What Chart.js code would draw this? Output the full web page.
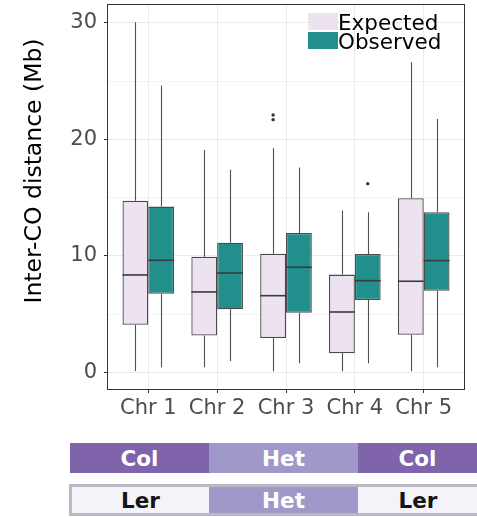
<!DOCTYPE html>
<html>
<head>
<meta charset="utf-8">
<title>Inter-CO distance per chromosome</title>
<script src="https://cdn.jsdelivr.net/npm/chart.js@4/dist/chart.umd.min.js"></script>
<style>
  html, body { margin: 0; padding: 0; background: #ffffff; overflow: hidden; }
  #page { position: relative; width: 477px; height: 517px; }
  #plot { position: absolute; left: 0; top: 0; width: 477px; height: 420px; }
  .strip { position: absolute; display: flex; box-sizing: border-box;
           font-family: "DejaVu Sans", sans-serif; font-weight: bold; font-size: 21.5px; }
  .strip div { display: flex; align-items: center; justify-content: center; }
  #parentA { left: 70px; top: 443px; width: 407px; height: 30px; }
  #parentB { left: 69px; top: 484px; width: 412px; height: 32px; border: 3px solid #bbb7c7; }
</style>
</head>
<body>
<div id="page">
  <div id="plot"><canvas id="chart" width="477" height="420"></canvas></div>
  <div class="strip" id="parentA"></div>
  <div class="strip" id="parentB"></div>
</div>
<script>
// Chromosomes on the x axis
const categories = ['Chr 1', 'Chr 2', 'Chr 3', 'Chr 4', 'Chr 5'];

// Expected inter-crossover distances (Mb): box-plot statistics per chromosome
const expectedMin      = [0.11, 0.43, 0.09, 0.09, 0.09];
const expectedQ1       = [4.09, 3.15, 2.95, 1.63, 3.23];
const expectedMedian   = [8.36, 6.90, 6.58, 5.18, 7.82];
const expectedQ3       = [14.74, 9.93, 10.19, 8.39, 14.95];
const expectedMax      = [30.07, 19.10, 19.24, 13.90, 26.63];
const expectedOutliers = [[], [], [22.1, 21.7], [], []];

// Observed inter-crossover distances (Mb)
const observedMin      = [0.43, 0.97, 0.77, 0.77, 0.43];
const observedQ1       = [6.75, 5.41, 5.12, 6.21, 7.00];
const observedMedian   = [9.62, 8.53, 9.02, 7.87, 9.59];
const observedQ3       = [14.23, 11.13, 11.97, 10.16, 13.75];
const observedMax      = [24.62, 17.40, 17.58, 13.75, 21.76];
const observedOutliers = [[], [], [], [16.2], []];

// Y axis ticks: labelled every 10, light grid every 5
const yTicks = [0, 5, 10, 15, 20, 25, 30];
const yLabelStep = 10;

// Parental genotype strips under the chart
const parentTop = ['Col', 'Het', 'Col'];
const parentBottom = ['Ler', 'Het', 'Ler'];

const seriesNames = ['Expected', 'Observed'];
const seriesFill = ['#ece2f0', '#21908d'];

// ---- genotype strips ----
const stripWidthsA = [139, 149, 119];
const stripWidthsB = [137, 149, 120];
const stripStyle = {
  Col: { bg: '#7f63ab', fg: '#ffffff' },
  Het: { bg: '#9f98c8', fg: '#ffffff' },
  Ler: { bg: '#f4f3f9', fg: '#151515' }
};
function buildStrip(id, labels, widths) {
  const host = document.getElementById(id);
  labels.forEach((lab, i) => {
    const d = document.createElement('div');
    d.textContent = lab;
    d.style.width = widths[i] + 'px';
    d.style.background = stripStyle[lab].bg;
    d.style.color = stripStyle[lab].fg;
    host.appendChild(d);
  });
}
buildStrip('parentA', parentTop, stripWidthsA);
buildStrip('parentB', parentBottom, stripWidthsB);

// ---- box-plot datasets: the boxes are floating bars [Q1, Q3] ----
function boxData(q1, q3) {
  return categories.map((c, i) => ({ x: i + 1, y: [q1[i], q3[i]] }));
}

const datasets = [
  {
    label: seriesNames[0],
    data: boxData(expectedQ1, expectedQ3),
    backgroundColor: seriesFill[0],
    lo: expectedMin, mid: expectedMedian, hi: expectedMax, out: expectedOutliers
  },
  {
    label: seriesNames[1],
    data: boxData(observedQ1, observedQ3),
    backgroundColor: seriesFill[1],
    lo: observedMin, mid: observedMedian, hi: observedMax, out: observedOutliers
  }
].map(ds => Object.assign(ds, {
  borderColor: '#4a4a4a',
  borderWidth: 1.3,
  borderSkipped: false,
  categoryPercentage: 0.75,
  barPercentage: 1.0
}));

const FONT = '"DejaVu Sans", sans-serif';

// Whiskers (behind boxes), medians and outliers (on top)
const boxParts = {
  id: 'boxParts',
  beforeDatasetsDraw(chart) {
    const { ctx } = chart;
    const y = chart.scales.y;
    ctx.save();
    ctx.strokeStyle = '#505050';
    ctx.lineWidth = 1.1;
    chart.data.datasets.forEach((ds, d) => {
      chart.getDatasetMeta(d).data.forEach((el, i) => {
        const x = Math.round(el.x) + 0.5;
        ctx.beginPath();
        ctx.moveTo(x, y.getPixelForValue(ds.data[i].y[1]));
        ctx.lineTo(x, y.getPixelForValue(ds.hi[i]));
        ctx.moveTo(x, y.getPixelForValue(ds.data[i].y[0]));
        ctx.lineTo(x, y.getPixelForValue(ds.lo[i]));
        ctx.stroke();
      });
    });
    ctx.restore();
  },
  afterDatasetsDraw(chart) {
    const { ctx } = chart;
    const y = chart.scales.y;
    ctx.save();
    chart.data.datasets.forEach((ds, d) => {
      chart.getDatasetMeta(d).data.forEach((el, i) => {
        const half = el.width / 2;
        const ym = y.getPixelForValue(ds.mid[i]);
        ctx.strokeStyle = '#3a3a3a';
        ctx.lineWidth = 1.6;
        ctx.beginPath();
        ctx.moveTo(el.x - half, ym);
        ctx.lineTo(el.x + half, ym);
        ctx.stroke();
        ctx.fillStyle = '#333333';
        ds.out[i].forEach(v => {
          ctx.beginPath();
          ctx.arc(el.x, y.getPixelForValue(v), 1.7, 0, Math.PI * 2);
          ctx.fill();
        });
      });
    });
    ctx.restore();
  }
};

// Panel frame around the plotting area
const panelFrame = {
  id: 'panelFrame',
  afterDatasetsDraw(chart) {
    const { ctx, chartArea: a } = chart;
    ctx.save();
    ctx.strokeStyle = '#333333';
    ctx.lineWidth = 1;
    ctx.strokeRect(a.left + 0.5, a.top + 0.5, a.right - a.left - 1, a.bottom - a.top - 1);
    ctx.restore();
  }
};

// Legend inside the panel, top right
const insideLegend = {
  id: 'insideLegend',
  afterDraw(chart) {
    const { ctx, chartArea: a } = chart;
    const x0 = a.right - 157;
    const rows = [a.top + 9, a.top + 28];
    ctx.save();
    ctx.font = '21.5px ' + FONT;
    ctx.textBaseline = 'alphabetic';
    chart.data.datasets.forEach((ds, d) => {
      ctx.fillStyle = ds.backgroundColor;
      ctx.fillRect(x0, rows[d], 30, 17);
      ctx.fillStyle = '#000000';
      ctx.fillText(ds.label, x0 + 30, rows[d] + 16.5);
    });
    ctx.restore();
  }
};

// Y axis title
const yTitle = {
  id: 'yTitle',
  afterDraw(chart) {
    const { ctx, chartArea: a } = chart;
    ctx.save();
    ctx.translate(35, a.top + 167);
    ctx.rotate(-Math.PI / 2);
    ctx.font = '23.5px ' + FONT;
    ctx.fillStyle = '#000000';
    ctx.textAlign = 'center';
    ctx.textBaseline = 'middle';
    ctx.fillText('Inter-CO distance (Mb)', 0, 0);
    ctx.restore();
  }
};

new Chart(document.getElementById('chart'), {
  type: 'bar',
  data: { datasets },
  plugins: [boxParts, panelFrame, insideLegend, yTitle],
  options: {
    responsive: false,
    animation: false,
    devicePixelRatio: 1,
    layout: { padding: { top: 4, right: 12, bottom: 0, left: 0 } },
    plugins: { legend: { display: false }, tooltip: { enabled: false } },
    scales: {
      x: {
        type: 'linear',
        min: 0.4,
        max: 5.6,
        offset: false,
        afterBuildTicks: s => { s.ticks = categories.map((c, i) => ({ value: i + 1 })); },
        afterFit: s => { s.height = 30; s.paddingLeft = 0; s.paddingRight = 0; },
        border: { display: false },
        grid: { offset: false, color: '#ebebeb', lineWidth: 1, tickColor: '#333333', tickLength: 3 },
        ticks: {
          autoSkip: false,
          maxRotation: 0,
          padding: 3,
          color: '#4d4d4d',
          font: { family: FONT, size: 21 },
          callback: v => categories[v - 1]
        }
      },
      y: {
        type: 'linear',
        min: -1.52,
        max: 31.63,
        afterBuildTicks: s => { s.ticks = yTicks.map(v => ({ value: v })); },
        afterFit: s => { s.width = 107; s.paddingTop = 0; s.paddingBottom = 0; },
        border: { display: false },
        grid: {
          color: c => (c.tick && c.tick.value % yLabelStep === 0) ? '#ebebeb' : '#f3f3f3',
          lineWidth: 1,
          tickColor: c => (c.tick && c.tick.value % yLabelStep === 0) ? '#333333' : 'rgba(0,0,0,0)',
          tickLength: 3
        },
        ticks: {
          padding: 7,
          color: '#4d4d4d',
          font: { family: FONT, size: 21 },
          callback: v => (v % yLabelStep === 0 ? String(v) : '')
        }
      }
    }
  }
});
</script>
</body>
</html>
